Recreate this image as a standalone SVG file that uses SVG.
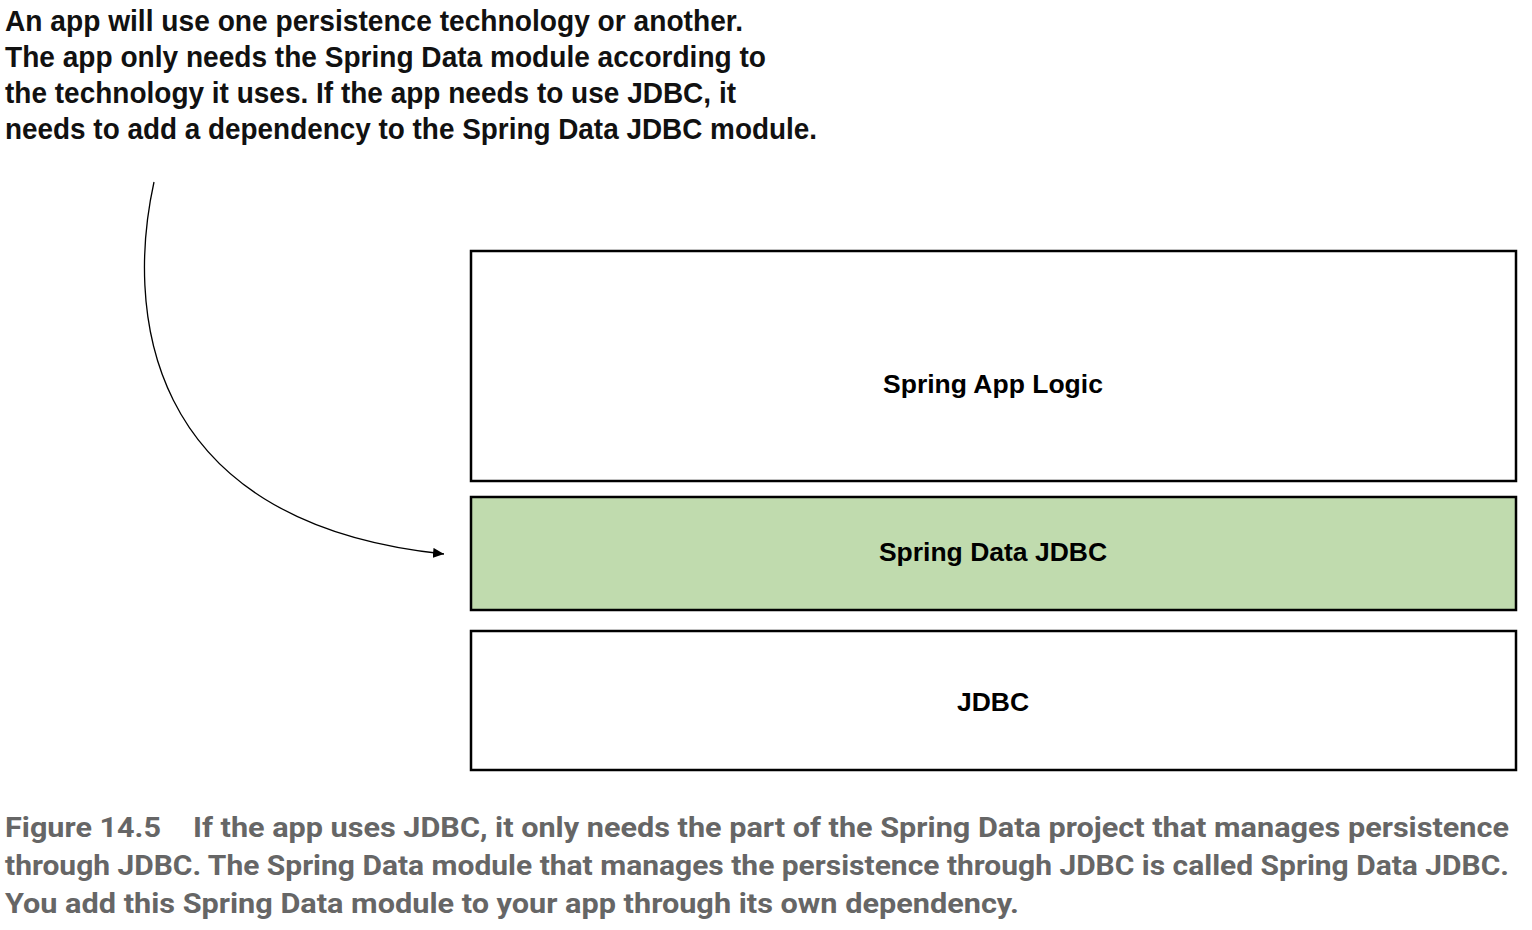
<svg xmlns="http://www.w3.org/2000/svg" width="1532" height="930" viewBox="0 0 1532 930">
<style>
.hdr{font-family:"Liberation Sans",Arial,sans-serif;font-weight:bold;font-size:30px;fill:#111}
.cap{font-family:"Roboto","Liberation Sans",sans-serif;font-weight:bold;font-size:28px;fill:#666}
.box{stroke:#000;stroke-width:2.5}
.lbl{font-family:"Liberation Sans",Arial,sans-serif;font-weight:bold;font-size:26.5px;fill:#000;text-anchor:middle}
</style>
<defs>
<marker id="arr" markerWidth="12" markerHeight="10" refX="11" refY="5" orient="auto" markerUnits="userSpaceOnUse">
<path d="M0,0 L11,5 L0,10 z" fill="#000"/>
</marker>
</defs>
<rect width="1532" height="930" fill="#fff"/>
<g id="header">
<text class="hdr" x="5" y="31" textLength="738" lengthAdjust="spacingAndGlyphs">An app will use one persistence technology or another.</text>
<text class="hdr" x="5" y="67" textLength="761" lengthAdjust="spacingAndGlyphs">The app only needs the Spring Data module according to</text>
<text class="hdr" x="5" y="103" textLength="731" lengthAdjust="spacingAndGlyphs">the technology it uses. If the app needs to use JDBC, it</text>
<text class="hdr" x="5" y="139" textLength="812" lengthAdjust="spacingAndGlyphs">needs to add a dependency to the Spring Data JDBC module.</text>
</g>
<g id="connectors">
<path d="M154,182 C128,300 135,522 444,554" fill="none" stroke="#000" stroke-width="1.3" marker-end="url(#arr)"/>
</g>
<g id="node-app-logic">
<rect class="box" x="471" y="251" width="1045" height="230" fill="#fff"/>
<text class="lbl" x="993" y="393">Spring App Logic</text>
</g>
<g id="node-spring-data-jdbc">
<rect class="box" x="471" y="497" width="1045" height="113" fill="#c0dbae"/>
<text class="lbl" x="993" y="561">Spring Data JDBC</text>
</g>
<g id="node-jdbc">
<rect class="box" x="471" y="631" width="1045" height="139" fill="#fff"/>
<text class="lbl" x="993" y="711">JDBC</text>
</g>
<g id="caption">
<text class="cap" x="5" y="837" textLength="156" lengthAdjust="spacingAndGlyphs">Figure 14.5</text>
<text class="cap" x="193" y="837" textLength="1316" lengthAdjust="spacingAndGlyphs">If the app uses JDBC, it only needs the part of the Spring Data project that manages persistence</text>
<text class="cap" x="5" y="875" textLength="1504" lengthAdjust="spacingAndGlyphs">through JDBC. The Spring Data module that manages the persistence through JDBC is called Spring Data JDBC.</text>
<text class="cap" x="5" y="913" textLength="1014" lengthAdjust="spacingAndGlyphs">You add this Spring Data module to your app through its own dependency.</text>
</g>
</svg>
